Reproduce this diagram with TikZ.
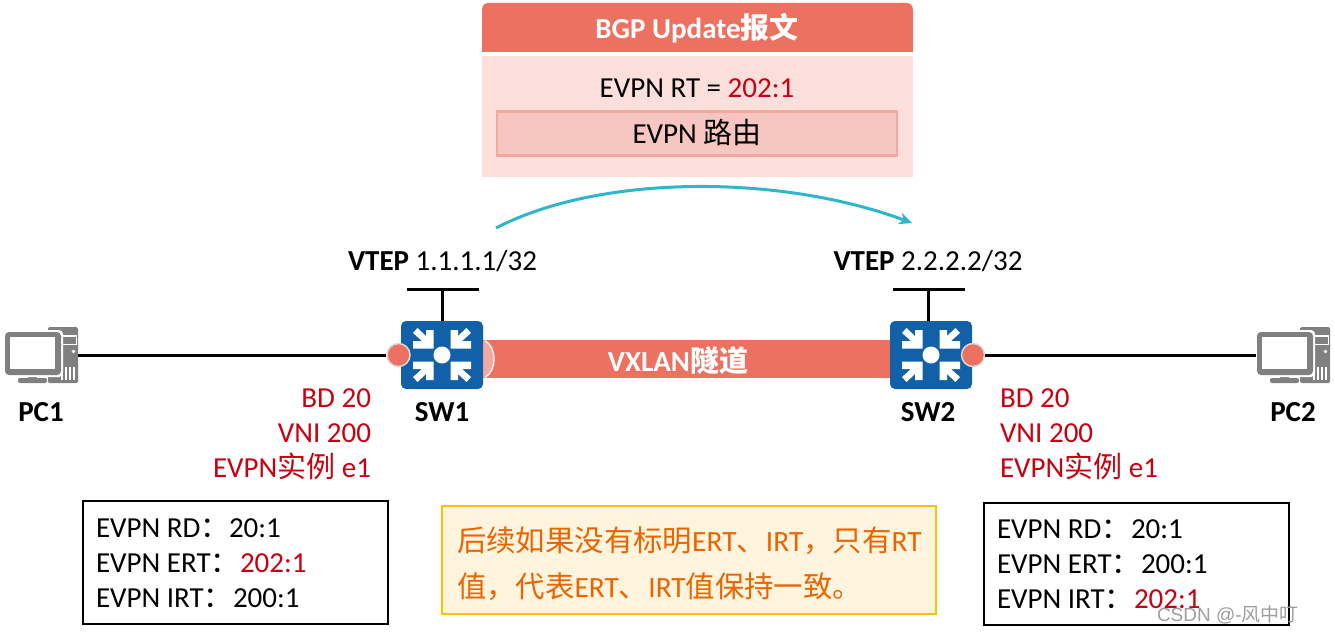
\documentclass[tikz,border=0pt]{standalone}
\usepackage{fontspec}
\setmainfont{Carlito}
\newfontfamily\cjk{Noto Sans CJK SC}
\newfontfamily\cjkb{Noto Sans CJK SC Bold}
\newfontfamily\wmfont{Liberation Sans}
\usetikzlibrary{arrows.meta}
\definecolor{salmon}{HTML}{ED7161}
\definecolor{lightsalmon}{HTML}{F4A9A0}
\definecolor{bodypink}{HTML}{FDE0DC}
\definecolor{innerpink}{HTML}{F7C6C1}
\definecolor{swblue}{HTML}{1260A8}
\definecolor{redtxt}{HTML}{C8000F}
\definecolor{pcgray}{HTML}{808080}
\definecolor{teal}{HTML}{2FB6C8}
\definecolor{notefill}{HTML}{FFF5DF}
\definecolor{noteline}{HTML}{FFC000}
\definecolor{notetxt}{HTML}{EA6400}
\newcommand{\fsz}[1]{\fontsize{#1bp}{#1bp}\selectfont}
\tikzset{
  x=1bp,y=-1bp,
  txt/.style={inner sep=0pt,outer sep=0pt,anchor=base west,font=\fsz{29}},
  txtr/.style={txt,anchor=base east,text=redtxt},
  lab/.style={inner sep=0pt,outer sep=0pt,anchor=base,font=\fsz{29}\bfseries},
  wire/.style={draw=black,line width=3bp},
  switchbox/.style={fill=swblue,draw=none,rounded corners=5bp,minimum width=82bp,minimum height=68bp,inner sep=0pt},
  portdot/.style={circle,fill=salmon,draw=black!15,line width=1.5bp,minimum size=23bp,inner sep=0pt},
  infobox/.style={draw=black,line width=2.2bp,fill=white},
  swarrow/.pic={
    \foreach \sx/\sy in {1/1,-1/1,1/-1,-1/-1}{
      \begin{scope}[xscale=\sx,yscale=\sy]
        \fill[white] (-8.5,-6.5) -- (-29,-6.5) -- (-29,-14) -- (-20,-14) -- (-29,-22) -- (-24.5,-27) -- (-16,-19) -- (-16,-25) -- (-8.5,-25) -- cycle;
      \end{scope}}
    \fill[white] (0,0) circle (8.5);
  },
  pcicon/.pic={
    \fill[pcgray,rounded corners=1.5bp] (7,-28) rectangle (37,28);
    \fill[white] (20,-20) rectangle (36,-10);
    \fill[pcgray] (21.5,-18.5) rectangle (34.5,-11.5);
    \fill[white] (32.5,-3.5) circle (1.8);
    \foreach \q in {20,24,28,32}{\fill[white] (\q,12) rectangle ++(1.5,13);}
    \fill[pcgray,rounded corners=2bp] (-23,23) rectangle (6,28);
    \fill[pcgray] (-4,19) rectangle (-13,24);
    \fill[white,rounded corners=4bp] (-38,-25) rectangle (22,22);
    \fill[pcgray,rounded corners=4bp] (-36,-23) rectangle (20,20);
    \fill[white] (-31,-18) rectangle (14,14);
  }
}
\begin{document}
\begin{tikzpicture}
\useasboundingbox (0,0) rectangle (1335,634);
% BGP box
\node[inner sep=0pt] (bodyrect) at (697.5,116.5) [fill=bodypink,minimum width=431bp,minimum height=121bp] {};
\fill[salmon] (482,52) -- (482,10) .. controls (482,5) and (485,3) .. (489,3) -- (906,3) .. controls (910,3) and (913,5) .. (913,10) -- (913,52) -- cycle;
\node[inner sep=0pt,outer sep=0pt,anchor=base,text=white,font=\fsz{29}\bfseries] (hdr) at (697,39) {BGP Update{\cjkb 报文}};
\node[txt,anchor=base] (rt) at (697,98) {EVPN RT = \textcolor{redtxt}{202:1}};
\node[fill=innerpink,draw=lightsalmon,line width=2.5bp,minimum width=400bp,minimum height=44bp,inner sep=0pt] (route) at (697,133.5) {};
\node[txt,anchor=base] (routet) at (697,144) {EVPN {\cjk 路由}};
% curve
\coordinate (cs) at (496,228);
\coordinate (ce) at (912,223);
\draw[teal,line width=3bp,-{Stealth[length=13bp,width=12bp]}] (cs) .. controls (600,174) and (780,174) .. (ce);
% VTEP labels
\node[txt,anchor=base] (v1) at (442.5,270) {\textbf{VTEP} 1.1.1.1/32};
\node[txt,anchor=base] (v2) at (928,270) {\textbf{VTEP} 2.2.2.2/32};
% tunnel
\node[fill=salmon,minimum width=410bp,minimum height=38bp,inner sep=0pt] (tunnel) at (686,359) {};
\fill[lightsalmon] (480,340) .. controls (488,340) and (494,348) .. (494,359) .. controls (494,370) and (488,378) .. (480,378) -- cycle;
\draw[white,line width=1.2bp] (485,340.5) .. controls (491,344) and (494,351) .. (494,359) .. controls (494,367) and (491,374) .. (485,377.5);
\node[inner sep=0pt,outer sep=0pt,anchor=base,text=white,font=\fsz{29}\bfseries] (tt) at (678,371) {VXLAN{\cjkb 隧道}};
% switches
\node[switchbox] (sw1) at (442,355) {};
\node[switchbox] (sw2) at (931,355) {};
\pic at (442,355) {swarrow};
\pic at (931,355) {swarrow};
% ports
\node[portdot] (p1) at (398.5,355) {};
\node[portdot] (p2) at (973,355) {};
% PCs
\coordinate (pc1c) at (41,355);
\coordinate (pc2c) at (1293,355);
\pic at (pc1c) {pcicon};
\pic at (pc2c) {pcicon};
\coordinate (pc1e) at (78,355);
\coordinate (pc2w) at (1256,355);
\draw[wire] (pc1e) -- (p1.west);
\draw[wire] (p2.east) -- (pc2w);
% VTEP bars
\coordinate (b1l) at (407,289);
\coordinate (b1r) at (479,289);
\coordinate (b1m) at (442,289);
\coordinate (b2l) at (893,289);
\coordinate (b2r) at (965,289);
\coordinate (b2m) at (928,289);
\coordinate (b2b) at (928,321);
\draw[wire] (b1l) -- (b1r);
\draw[wire] (b1m) -- (sw1.north);
\draw[wire] (b2l) -- (b2r);
\draw[wire] (b2m) -- (b2b);
% labels
\node[lab] (pc1) at (41,421) {PC1};
\node[lab] (sw1l) at (442,421) {SW1};
\node[lab] (sw2l) at (928,421) {SW2};
\node[lab] (pc2) at (1293,421) {PC2};
% red text
\node[txtr] (r1) at (371,407) {BD 20};
\node[txtr] (r2) at (371,442) {VNI 200};
\node[txtr] (r3) at (371,477) {EVPN{\cjk 实例} e1};
\node[txt,text=redtxt] (r4) at (1000,407) {BD 20};
\node[txt,text=redtxt] (r5) at (1000,442) {VNI 200};
\node[txt,text=redtxt] (r6) at (1000,477) {EVPN{\cjk 实例} e1};
% info boxes
\node[infobox,minimum width=305bp,minimum height=123bp,inner sep=0pt] (bl) at (235.5,562.5) {};
\node[infobox,minimum width=305bp,minimum height=122bp,inner sep=0pt] (br) at (1136.5,564) {};
\node[txt] (a1) at (96,537) {EVPN RD{\cjk ：}};
\node[txt] (a2) at (229,537) {20:1};
\node[txt] (a3) at (96,572) {EVPN ERT{\cjk ：}};
\node[txt,text=redtxt] (a4) at (240,572) {202:1};
\node[txt] (a5) at (96,607) {EVPN IRT{\cjk ：}};
\node[txt] (a6) at (233,607) {200:1};
\node[txt] (c1) at (997,538) {EVPN RD{\cjk ：}};
\node[txt] (c2) at (1131,538) {20:1};
\node[txt] (c3) at (997,573) {EVPN ERT{\cjk ：}};
\node[txt] (c4) at (1141,573) {200:1};
\node[txt] (c5) at (997,608) {EVPN IRT{\cjk ：}};
\node[txt,text=redtxt] (c6) at (1134,608) {202:1};
% note
\node[fill=notefill,draw=noteline,line width=2bp,minimum width=494bp,minimum height=108bp,inner sep=0pt] (note) at (689,560) {};
\node[txt,text=notetxt,font=\fsz{29.4}] (n1) at (457,551) {{\cjk 后续如果没有标明}ERT{\cjk 、}IRT{\cjk ，只有}RT};
\node[txt,text=notetxt,font=\fsz{29.4}] (n2) at (457,597) {{\cjk 值，代表}ERT{\cjk 、}IRT{\cjk 值保持一致。}};
% watermark
\node[txt,anchor=base west,text=black!38,font=\fsz{19}\wmfont] (wm) at (1157,621) {CSDN @-{\cjk 风中叮}};
\end{tikzpicture}
\end{document}
